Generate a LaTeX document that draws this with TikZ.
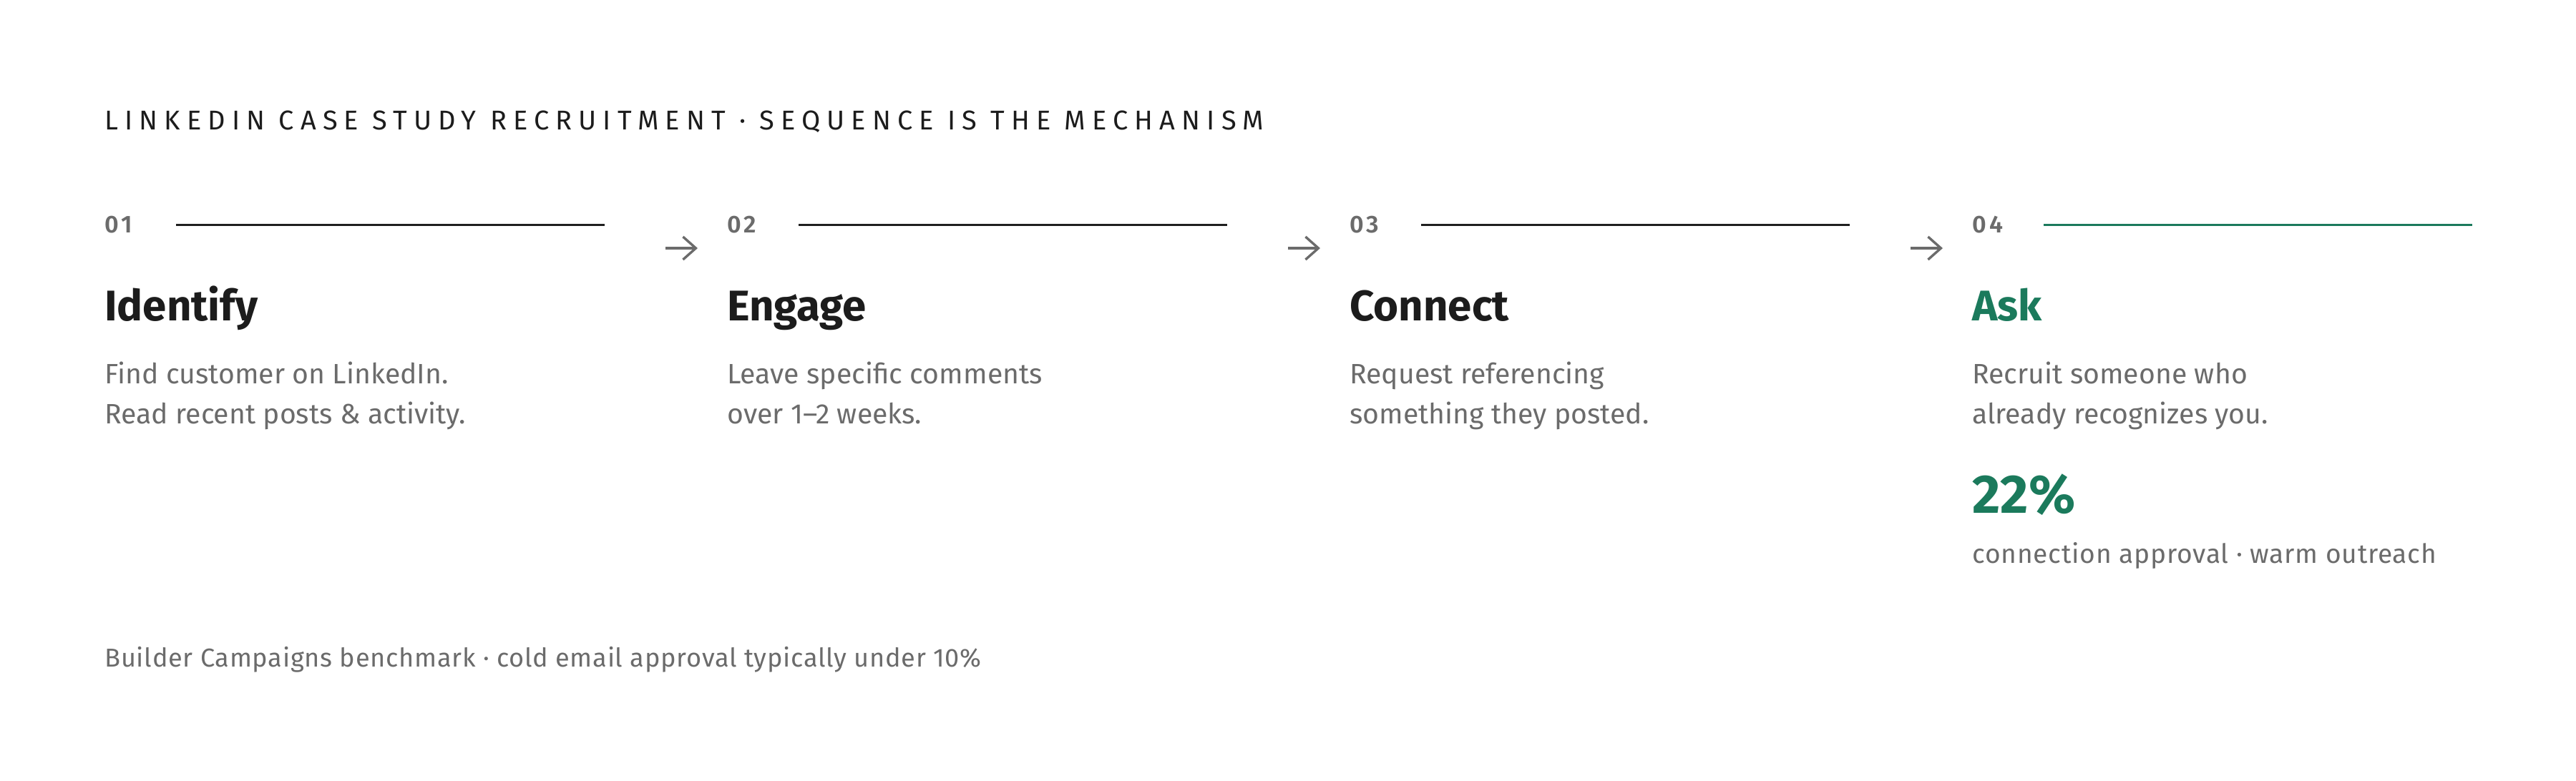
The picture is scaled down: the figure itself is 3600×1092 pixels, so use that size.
\documentclass[tikz,border=0pt]{standalone}
\usepackage{fontspec}
\setmainfont{Fira Sans}
\newfontfamily\titlefont[LetterSpace=24]{Fira Sans}
\newfontfamily\numfont[LetterSpace=12]{Fira Sans SemiBold}
\newfontfamily\notefont[LetterSpace=2]{Fira Sans}
\usepackage{tikz}
\usetikzlibrary{arrows.meta}
\usepackage{xcolor}
\definecolor{ink}{HTML}{1C1C1C}
\definecolor{mute}{HTML}{6B6B6B}
\definecolor{rule}{HTML}{1F1F1F}
\definecolor{g1}{HTML}{1B7A5C}
\tikzstyle{txt}=[inner sep=0pt,anchor=base west]
\tikzstyle{kicker}=[txt,ink,font=\titlefont\fontsize{19}{23}\selectfont]
\tikzstyle{stepnum}=[txt,mute,font=\numfont\fontsize{17}{20}\selectfont]
\tikzstyle{stephead}=[txt,ink,font=\bfseries\fontsize{30}{34}\selectfont]
\tikzstyle{stepbody}=[txt,mute,align=left,font=\fontsize{19.6}{28}\selectfont]
\tikzstyle{bar}=[rule,line width=1.5pt]
\tikzstyle{flow}=[mute,line width=1.7pt,-{Straight Barb[length=9pt,width=16pt]}]

\begin{document}
\begin{tikzpicture}[x=0.5pt,y=-0.5pt]
  \useasboundingbox (0,0) rectangle (3600,1092);
  \node[kicker] (title) at (146,181) {LINKEDIN CASE STUDY RECRUITMENT · SEQUENCE IS THE MECHANISM};
  % step 01
  \node[stepnum] (n1) at (146,325) {01};
  \draw[bar] (246,314) coordinate (l1a) -- (845,314) coordinate (l1b);
  \node[stephead] (h1) at (146,448) {Identify};
  \node[stepbody] (b1) at (146,592) {Find customer on LinkedIn.\\Read recent posts \& activity.};
  % step 02
  \node[stepnum] (n2) at (1016,325) {02};
  \draw[bar] (1116,314) coordinate (l2a) -- (1715,314) coordinate (l2b);
  \node[stephead] (h2) at (1016,448) {Engage};
  \node[stepbody] (b2) at (1016,592) {Leave specific comments\\over 1–2 weeks.};
  % step 03
  \node[stepnum] (n3) at (1886,325) {03};
  \draw[bar] (1986,314) coordinate (l3a) -- (2585,314) coordinate (l3b);
  \node[stephead] (h3) at (1886,448) {Connect};
  \node[stepbody] (b3) at (1886,592) {Request referencing\\something they posted.};
  % step 04
  \node[stepnum] (n4) at (2756,325) {04};
  \draw[bar,g1] (2856,314) coordinate (l4a) -- (3455,314) coordinate (l4b);
  \node[stephead,g1] (h4) at (2756,448) {Ask};
  \node[stepbody] (b4) at (2756,592) {Recruit someone who\\already recognizes you.};
  \node[txt,g1,font=\bfseries\fontsize{38}{44}\selectfont] (stat) at (2756,717) {22\%};
  \node[txt,mute,font=\notefont\fontsize{18.6}{23}\selectfont] (statnote) at (2756,787) {connection approval · warm outreach};
  % arrows
  \coordinate (a1) at (930,347);  \coordinate (a1e) at (975,347);
  \coordinate (a2) at (1800,347); \coordinate (a2e) at (1845,347);
  \coordinate (a3) at (2670,347); \coordinate (a3e) at (2715,347);
  \draw[flow] (a1) -- (a1e);
  \draw[flow] (a2) -- (a2e);
  \draw[flow] (a3) -- (a3e);
  \node[txt,mute,font=\notefont\fontsize{18.1}{21}\selectfont] (foot) at (146,932) {Builder Campaigns benchmark · cold email approval typically under 10\%};
\end{tikzpicture}
\end{document}
